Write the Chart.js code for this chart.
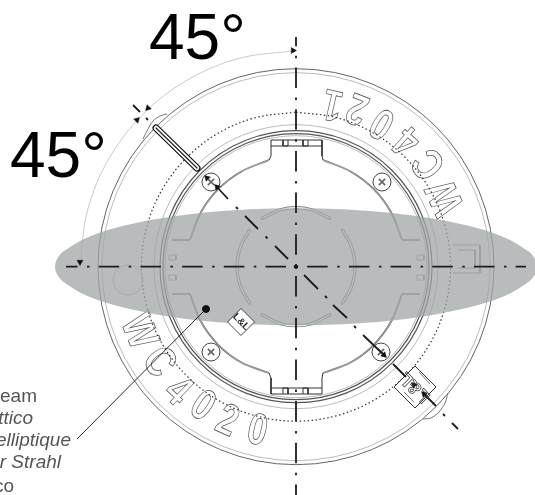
<!DOCTYPE html>
<html><head><meta charset="utf-8">
<style>html,body{margin:0;padding:0;background:#fff}canvas{display:block}</style>
<script src="https://cdn.jsdelivr.net/npm/chart.js@4"></script>
</head><body><canvas id="c" width="535" height="495"></canvas>
<script>
const centre=[296,266.7];
const ringsDark=[198,136,133];
const ringsLight=[194,142,131];
const beam=[[537,266.7],[534.9,259.1],[528.8,251.6],[504.7,237.4],[466.4,225.3],[416.5,216],[358.4,210.2],[296,208.2],[233.6,210.2],[175.5,216],[125.6,225.3],[87.3,237.4],[63.2,251.6],[57.1,259.1],[55,266.7],[57.1,274.3],[63.2,281.8],[87.3,296],[125.6,308.1],[175.5,317.4],[233.6,323.2],[296,325.2],[358.4,323.2],[416.5,317.4],[466.4,308.1],[504.7,296],[528.8,281.8],[534.9,274.3],[537,266.7]];
const dotted=[[296,112.2],[336,117.5],[373.3,132.9],[405.2,157.5],[429.8,189.5],[445.2,226.7],[450.5,266.7],[445.2,306.7],[429.8,343.9],[405.2,375.9],[373.3,400.5],[336,415.9],[296,421.2],[256,415.9],[218.7,400.5],[186.8,375.9],[162.2,343.9],[146.8,306.7],[141.5,266.7],[146.8,226.7],[162.2,189.5],[186.8,157.5],[218.7,132.9],[256,117.5],[296,112.2]];
const dimArc=[[296,50.7],[240.1,58.1],[188,79.6],[143.3,114],[108.9,158.7],[87.4,210.8],[80,266.7]];
const bumps=[[143,139],[147,131],[153,121],[160,116],[167,114],null,[423,419],[431,418],[439,412],[445,403],[448,393]];
const bracketArcs=[[323,160],[351,171.7],[373.8,189.2],[391.3,212.7],[402,240],null,[402,294],[391.3,321.3],[373.8,344.8],[351,362.3],[323,373],null,[190,294],[200.7,321.3],[218.2,344.8],[241,362.3],[269,373],null,[190,240],[200.7,212.7],[218.2,189.2],[241,171.7],[269,160]];
const tabs=[[269,160],[271,156],[271,140],[322,140],[322,156],[323,160],null,[269,373],[271,378],[271,394],[322,394],[322,378],[323,373],null,[402,240],[420,240],null,[402,294],[420,294],null,[190,240],[172,240],null,[190,294],[172,294],null,[271,146],[322,146],null,[271,388],[322,388],null,[283,140],[283,146],[288,146],[288,140],null,[303,140],[303,146],[308,146],[308,140],null,[283,394],[283,388],[288,388],[288,394],null,[303,394],[303,388],[308,388],[308,394]];
const grips=[[417,255],[424,255],[424,260],[417,260],[417,255],null,[417,275],[424,275],[424,280],[417,280],[417,275],null,[169,255],[176,255],[176,260],[169,260],[169,255],null,[169,275],[176,275],[176,280],[169,280],[169,275]];
const latch=[[453,245],[480,245],[480,273],[453,273],null,[458,250],[475,250],[475,268],[458,268]];
const innerArcs=[[262.2,218.4],[280.7,209.7],[296,207.7],[311.3,209.7],[329.8,218.4],null,[342.5,230.4],[351.4,246.5],[355,266.7],[351.4,286.9],[342.5,303],null,[329.8,315],[311.3,323.7],[296,325.7],[280.7,323.7],[262.2,315],null,[249.5,303],[240.6,286.9],[237,266.7],[240.6,246.5],[249.5,230.4]];
const screws=[[211,182],[382,182],[211,352],[381,352]];
const slot=[[156,128],[197,168]];
const bigDiamond=[[415,366],[436,387],[415,408],[394,387],[415,366]];
const bigDiamondInner=[[419,372],[430,384],null,[404,392],[414,402]];
const smallDiamond=[[241,308.5],[254.5,322],[241,335.5],[227.5,322],[241,308.5]];
const centreV=[[296,37],[296,495]];
const centreH=[[66,266.7],[526,266.7]];
const diagonal=[[133,105],[140,112],null,[146,118],[148,120],null,[217,187],[228,199],null,[236,207],[238,209],null,[245,216],[258,229],null,[265.5,236.5],[267.5,238.5],null,[275,246],[288,259],null,[304,275],[318,289],null,[325,296],[327,298],null,[333,305],[347,318],null,[354,326],[356,328],null,[363,335],[385,356],null,[393,364],[406,377],null,[423,393],[436,406],null,[443,414],[445,416],null,[452,423],[458,429]];
const leader=[[206,309],[77,439]];
const arrowPts=[[293,50.5],[80,262],[148,108],[137,120],[207,178],[217,187],[384,355],[414,385],[424,394]];
const arrowAngles=[90,180,225,45,315,315,135,315,315];
const faintCircle=[[128,280]];
const angleLabels=["45°","45°"];
const anglePos=[[149,59],[10,177]];
const noteLines=["beam","ittico","elliptique","er Strahl","co"];
const noteStyle=["normal","italic","italic","italic","normal"];
const noteEnds=[[37,402],[33,423.5],[71,446],[61,468],[14,491.5]];
const stampBottom=["W","C","4","0","2","0"];
const stampBottomPos=[[138,332],[158,363],[177,392],[202,407],[227,422],[257,432]];
const stampBottomRot=[67.6,55,43.6,33.9,24,13.3];
const stampTop=["W","C","4","0","2","1"];
const stampTopPos=[[447,197],[430,163],[408,140],[383,122],[358,107],[333,103]];
const stampTopRot=[-114.9,-127.8,-138.6,-149,-158.8,-167];
const markLabels=["L&L","L&L"];
const markPos=[[241,322],[415,387]];
const markRot=[45,225];

const pts=a=>a.map(p=>p?{x:p[0],y:p[1]}:{x:null,y:null});
const line=(a,color,w,o={})=>Object.assign({data:pts(a),showLine:true,borderColor:color,backgroundColor:'transparent',borderWidth:w,pointRadius:0,tension:0,spanGaps:false},o);
const circ=(a,r,color,w,o={})=>Object.assign({data:pts(a),showLine:false,pointRadius:r,pointBorderColor:color,pointBackgroundColor:'transparent',pointBorderWidth:w},o);
const ds=[];
ringsDark.forEach(r=>ds.push(circ([centre],r,'#555',r===198?0.9:1.2)));
ringsLight.forEach(r=>ds.push(circ([centre],r,'#aaa',0.8)));
ds.push(line(dimArc,'#bdbdbd',0.8,{tension:0.35}));
ds.push(line(bumps,'#666',0.9,{tension:0.3}));
ds.push(line(dotted,'#333',1.2,{tension:0.35,borderDash:[1.5,2.5]}));
ds.push(line(bracketArcs,'#666',1.8,{tension:0.35}));
ds.push(line(bracketArcs,'#eee',0.5,{tension:0.35}));
ds.push(line(tabs,'#333',1));
ds.push(line(grips,'#777',0.7));
ds.push(line(latch,'#777',0.8));
ds.push(line(innerArcs,'#777',3.2,{tension:0.35,borderCapStyle:'round'}));
ds.push(line(innerArcs,'#fff',1.6,{tension:0.35,borderCapStyle:'round'}));
ds.push(circ(faintCircle,15,'#999',0.7));
ds.push(circ(screws,9,'#444',1,{pointBackgroundColor:'#fff'}));
ds.push(circ(screws,4.5,'#666',1.6,{pointStyle:'crossRot'}));
ds.push(line(beam,'transparent',0,{tension:0.35,fill:'shape',backgroundColor:'rgba(162,166,167,0.75)'}));
ds.push(line(slot,'#111',7,{borderCapStyle:'round'}));
ds.push(line(slot,'#fff',4.6,{borderCapStyle:'round'}));
ds.push(line(slot,'#222',1.2,{borderCapStyle:'round'}));
ds.push(line(bigDiamond,'#333',1,{fill:'shape',backgroundColor:'#fff'}));
ds.push(line(bigDiamondInner,'#666',0.9));
ds.push(line(smallDiamond,'#333',0.9,{fill:'shape',backgroundColor:'#fff'}));
ds.push(line(centreH,'#1c1c1c',1.8,{borderDash:[20.5,9.5,2.5,9.2],borderDashOffset:9}));
ds.push(line(centreV,'#1c1c1c',1.8,{borderDash:[20.5,9.5,2.5,9.2],borderDashOffset:11.2}));
ds.push(line(diagonal,'#1c1c1c',1.8));
ds.push(line(leader,'#111',0.9));
ds.push(circ([leader[0]],3.5,'#111',1,{pointBackgroundColor:'#111'}));
ds.push(circ([centre],1.8,'#111',1,{pointBackgroundColor:'#111'}));
ds.push({data:pts(arrowPts),showLine:false,pointStyle:'triangle',pointRadius:3.4,pointRotation:arrowAngles,pointBackgroundColor:'#111',pointBorderColor:'#111',pointBorderWidth:0.5});
ds.forEach((d,i)=>{d.order=-i;});

const textPlugin={id:'drawingText',
 beforeDatasetsDraw(ch){
  const c=ch.ctx,X=ch.scales.x,Y=ch.scales.y;
  const stamp=(ls,ps,rs)=>ls.forEach((t,i)=>{c.save();c.translate(X.getPixelForValue(ps[i][0]),Y.getPixelForValue(ps[i][1]));c.rotate(rs[i]*Math.PI/180);c.scale(0.78,1);c.font='bold 44px "Liberation Sans"';c.textAlign='center';c.textBaseline='middle';c.lineWidth=0.8;c.strokeStyle='#555';c.strokeText(t,0,0);c.restore();});
  stamp(stampBottom,stampBottomPos,stampBottomRot);
  stamp(stampTop,stampTopPos,stampTopRot);
 },
 afterDatasetsDraw(ch){
  const c=ch.ctx,X=ch.scales.x,Y=ch.scales.y;
  c.save();c.fillStyle='#000';c.font='64px "Liberation Sans"';c.textAlign='left';c.textBaseline='alphabetic';
  angleLabels.forEach((t,i)=>c.fillText(t,X.getPixelForValue(anglePos[i][0]),Y.getPixelForValue(anglePos[i][1])));
  c.textAlign='right';c.fillStyle='#555';
  noteLines.forEach((t,i)=>{c.font=noteStyle[i]+' 19px "Liberation Sans"';c.fillText(t,X.getPixelForValue(noteEnds[i][0]),Y.getPixelForValue(noteEnds[i][1]));});
  c.restore();
  markLabels.forEach((t,i)=>{c.save();c.translate(X.getPixelForValue(markPos[i][0]),Y.getPixelForValue(markPos[i][1]));c.rotate(markRot[i]*Math.PI/180);c.textAlign='center';c.textBaseline='middle';
   if(i===0){c.font='bold 10px "Liberation Sans"';c.fillStyle='#333';c.fillText(t,0,0);}
   else{c.font='bold 18px "Liberation Sans"';c.strokeStyle='#333';c.lineWidth=0.7;c.strokeText(t,0,0);}
   c.restore();});
 }};

new Chart(document.getElementById('c'),{type:'scatter',data:{datasets:ds},plugins:[textPlugin],
 options:{responsive:false,animation:false,devicePixelRatio:1,layout:{padding:0,autoPadding:false},
  plugins:{legend:{display:false},tooltip:{enabled:false}},
  scales:{x:{type:'linear',min:0,max:535,display:false},y:{type:'linear',min:0,max:495,reverse:true,display:false}}}});
</script></body></html>
